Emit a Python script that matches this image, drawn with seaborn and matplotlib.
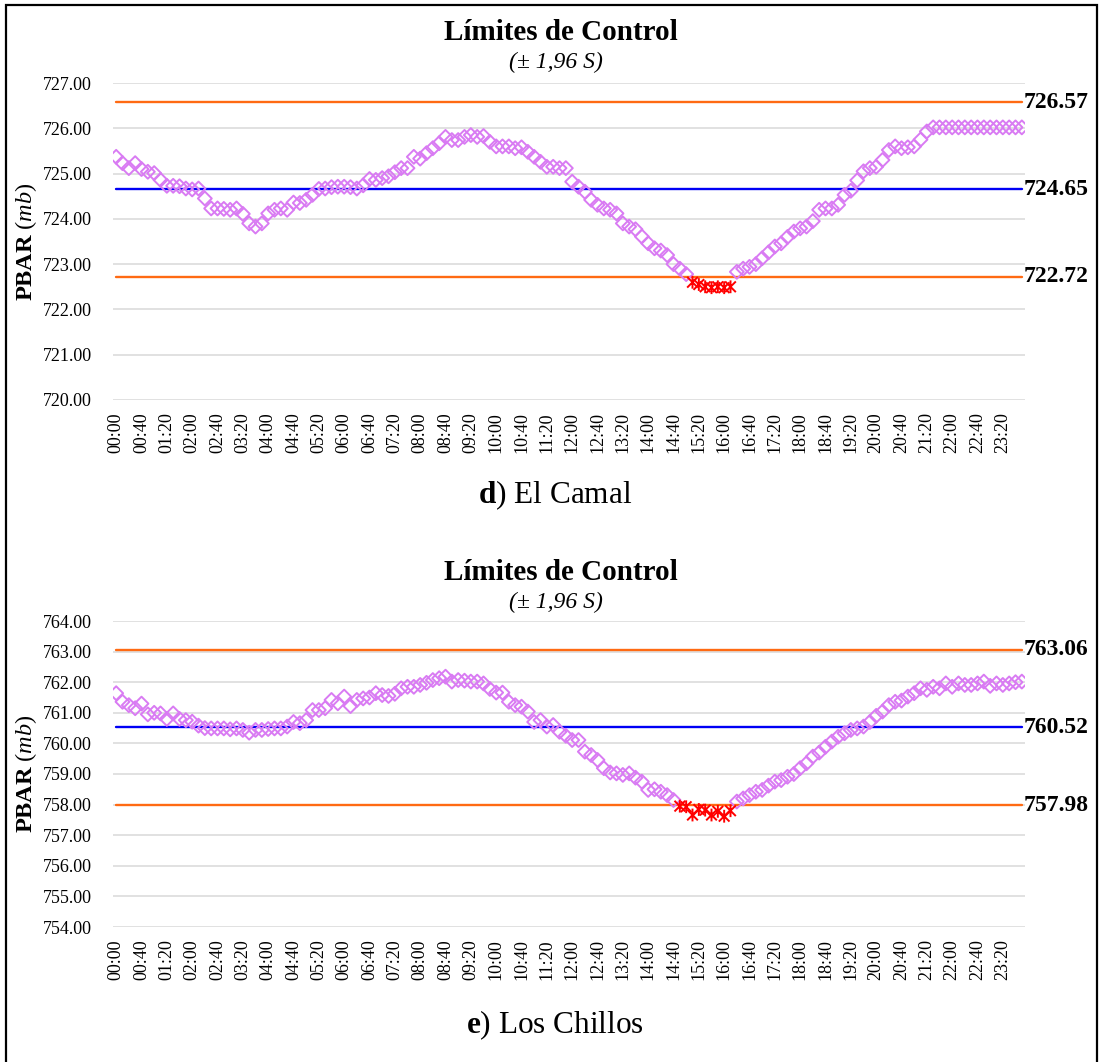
import numpy as np
import pandas as pd
import matplotlib
matplotlib.use("Agg")
import matplotlib.pyplot as plt
import matplotlib.transforms as mtransforms
from matplotlib.patches import Rectangle
from matplotlib.path import Path
from matplotlib.ticker import FormatStrFormatter, MultipleLocator
import seaborn as sns

# ---------------------------------------------------------------- data
times = [f"{h:02d}:{m:02d}" for h in range(24) for m in range(0, 60, 10)]

camal_pbar = [
    725.37, 725.23, 725.12, 725.23, 725.10, 725.04, 725.01, 724.86, 724.73, 724.73,
    724.72, 724.67, 724.65, 724.67, 724.45, 724.23, 724.23, 724.22, 724.20, 724.23,
    724.11, 723.90, 723.83, 723.90, 724.12, 724.20, 724.23, 724.20, 724.36, 724.35,
    724.42, 724.53, 724.66, 724.67, 724.70, 724.71, 724.71, 724.70, 724.67, 724.74,
    724.88, 724.86, 724.90, 724.94, 725.03, 725.12, 725.12, 725.37, 725.33, 725.45,
    725.56, 725.67, 725.81, 725.74, 725.74, 725.81, 725.85, 725.81, 725.83, 725.70,
    725.60, 725.60, 725.60, 725.56, 725.58, 725.48, 725.37, 725.26, 725.15, 725.15,
    725.12, 725.12, 724.82, 724.71, 724.60, 724.42, 724.31, 724.23, 724.20, 724.12,
    723.90, 723.83, 723.77, 723.61, 723.46, 723.35, 723.30, 723.20, 723.00, 722.90,
    722.78, 722.60, 722.55, 722.50, 722.48, 722.50, 722.48, 722.50, 722.83, 722.90,
    722.94, 723.00, 723.13, 723.26, 723.39, 723.46, 723.60, 723.72, 723.79, 723.83,
    723.95, 724.20, 724.23, 724.23, 724.31, 724.53, 724.62, 724.85, 725.05, 725.12,
    725.15, 725.30, 725.52, 725.60, 725.56, 725.58, 725.60, 725.75, 725.93, 726.02,
    726.02, 726.02, 726.02, 726.02, 726.02, 726.02, 726.02, 726.02, 726.02, 726.02,
    726.02, 726.02, 726.02, 726.02,
]
camal_limits = (722.72, 724.65, 726.57)   # LCI, media, LCS

chillos_pbar = [
    761.64, 761.36, 761.25, 761.15, 761.30, 760.95, 761.00, 760.98, 760.80, 760.98,
    760.80, 760.76, 760.71, 760.58, 760.50, 760.49, 760.49, 760.49, 760.46, 760.49,
    760.44, 760.35, 760.44, 760.44, 760.47, 760.49, 760.49, 760.55, 760.70, 760.66,
    760.76, 761.09, 761.09, 761.15, 761.42, 761.31, 761.53, 761.22, 761.42, 761.47,
    761.50, 761.64, 761.58, 761.55, 761.62, 761.80, 761.85, 761.85, 761.91, 761.98,
    762.07, 762.13, 762.18, 762.02, 762.07, 762.05, 762.02, 762.02, 761.96, 761.78,
    761.66, 761.66, 761.36, 761.25, 761.20, 761.04, 760.70, 760.76, 760.55, 760.60,
    760.38, 760.25, 760.11, 760.11, 759.73, 759.62, 759.46, 759.19, 759.05, 759.02,
    758.97, 759.02, 758.88, 758.75, 758.48, 758.50, 758.42, 758.31, 758.15, 757.95,
    757.93, 757.66, 757.84, 757.82, 757.66, 757.78, 757.62, 757.80, 758.10, 758.20,
    758.31, 758.42, 758.48, 758.62, 758.75, 758.80, 758.91, 759.00, 759.19, 759.35,
    759.57, 759.70, 759.89, 760.06, 760.22, 760.33, 760.44, 760.49, 760.55, 760.70,
    760.90, 761.04, 761.25, 761.36, 761.40, 761.53, 761.64, 761.80, 761.75, 761.85,
    761.80, 761.96, 761.85, 761.96, 761.91, 761.91, 761.96, 762.02, 761.88, 761.96,
    761.91, 761.96, 762.00, 762.02,
]
chillos_limits = (757.98, 760.52, 763.06)

# ---------------------------------------------------------------- style
W, H = 1099, 1062
sns.set_theme(style="white")
plt.rcParams["font.family"] = ["Liberation Serif", "DejaVu Serif"]
plt.rcParams["mathtext.fontset"] = "custom"
plt.rcParams["mathtext.rm"] = "Liberation Serif"
plt.rcParams["mathtext.it"] = "Liberation Serif:italic"
plt.rcParams["mathtext.bf"] = "Liberation Serif:bold"
for key in ("text.color", "axes.labelcolor", "xtick.color", "ytick.color"):
    plt.rcParams[key] = "black"

VIOLET = "#D97BF3"
ORANGE = "#FF6A13"
BLUE = "#0000F5"
RED = "#FF0000"
GRID = "#D9D9D9"

# Excel-like "star" marker: an x crossed by a vertical bar
STAR = Path(
    [(-1, -1), (1, 1), (-1, 1), (1, -1), (0, -1.2), (0, 1.2)],
    [Path.MOVETO, Path.LINETO, Path.MOVETO, Path.LINETO, Path.MOVETO, Path.LINETO],
)

fig = plt.figure(figsize=(W / 100, H / 100), dpi=100)


def px_axes(left, top, right, bottom):
    return fig.add_axes([left / W, 1 - bottom / H, (right - left) / W, (bottom - top) / H])


def draw_panel(ax, values, limits, ylim, letter, station, title_y, caption_y):
    lcl, mean, ucl = limits
    df = pd.DataFrame({"pos": np.arange(len(times)), "hora": times, "pbar": values})
    df["fuera"] = (df["pbar"] < lcl) | (df["pbar"] > ucl)

    for level, color in ((ucl, ORANGE), (mean, BLUE), (lcl, ORANGE)):
        ref = pd.DataFrame({"pos": df["pos"], "nivel": level})
        sns.lineplot(data=ref, x="pos", y="nivel", color=color, linewidth=1.7,
                     errorbar=None, ax=ax, zorder=2)

    sns.scatterplot(data=df[~df["fuera"]], x="pos", y="pbar", marker="D", s=50,
                    facecolor="none", edgecolor=VIOLET, linewidth=1.4, ax=ax, zorder=3)
    sns.scatterplot(data=df[df["fuera"]], x="pos", y="pbar", marker=STAR, s=85,
                    facecolor="none", edgecolor=RED, linewidth=1.4, ax=ax, zorder=4)

    ax.set_xlim(-0.5, len(times) - 0.5)
    ax.set_ylim(*ylim)
    ax.yaxis.set_major_locator(MultipleLocator(1))
    ax.yaxis.set_major_formatter(FormatStrFormatter("%.2f"))
    ax.set_xticks(df["pos"][::4])
    ax.set_xticklabels(df["hora"][::4], rotation=90)
    ax.tick_params(axis="x", length=0, pad=9, labelsize=13)
    ax.tick_params(axis="y", length=0, pad=15, labelsize=13)
    ax.grid(axis="y", color=GRID, linewidth=1.1, zorder=0)
    ax.grid(axis="x", visible=False)
    for sp in ax.spines.values():
        sp.set_visible(False)
    ax.set_xlabel("")
    ax.set_ylabel(r"$\mathbf{PBAR}\ \mathit{(mb)}$", fontsize=17.5)
    ax.yaxis.set_label_coords(-0.081, 0.5)

    trans = mtransforms.blended_transform_factory(ax.transAxes, ax.transData)
    for level in (ucl, mean, lcl):
        ax.text(0.998, level, f"{level:.2f}", transform=trans, ha="left", va="center",
                fontsize=17, fontweight="bold", color="black")

    fig.text(561 / W, 1 - title_y / H, "Límites de Control", ha="center", va="center",
             fontsize=21, fontweight="bold")
    fig.text(556 / W, 1 - (title_y + 30) / H, "(± 1,96 S)", ha="center", va="center",
             fontsize=17, fontstyle="italic")
    fig.text(555 / W, 1 - caption_y / H, rf"$\mathbf{{{letter}}}$) {station}",
             ha="center", va="center", fontsize=22.5)


ax1 = px_axes(113, 83, 1025, 400)
draw_panel(ax1, camal_pbar, camal_limits, (720, 727), "d", "El Camal", 32, 495)

ax2 = px_axes(113, 621, 1025, 927)
draw_panel(ax2, chillos_pbar, chillos_limits, (754, 764), "e", "Los Chillos", 572, 1025)

# outer frame
fig.patches.append(Rectangle((6 / W, -0.05), (1097 - 6) / W, 1.05 - 5 / H,
                             transform=fig.transFigure, fill=False,
                             edgecolor="black", linewidth=1.6, zorder=10))

fig.savefig("out.png", dpi=100)
